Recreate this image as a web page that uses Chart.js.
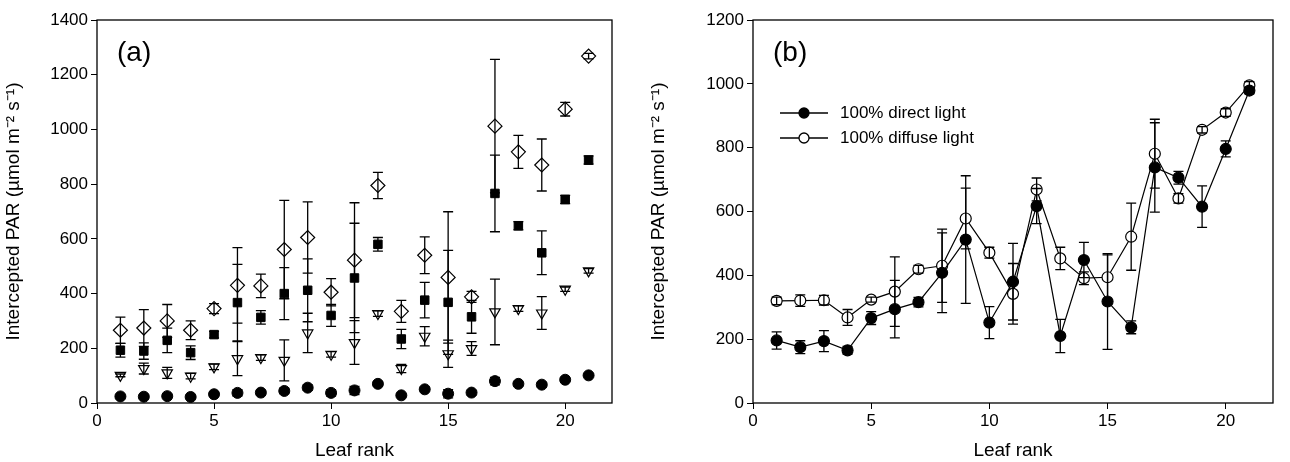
<!DOCTYPE html>
<html>
<head>
<meta charset="utf-8">
<script src="https://cdn.jsdelivr.net/npm/chart.js@4"></script>
<style>
  body { margin: 0; background: #fff; }
  canvas { position: absolute; top: 0; }
</style>
</head>
<body>
<canvas id="chartA" width="640" height="462" style="left:0;width:640px;height:462px"></canvas>
<canvas id="chartB" width="645" height="462" style="left:645px;width:645px;height:462px"></canvas>
<script>
// leaf ranks
const leafRank = [1,2,3,4,5,6,7,8,9,10,11,12,13,14,15,16,17,18,19,20,21];
const xTicks = [0, 5, 10, 15, 20];
const yTicksA = [0,200,400,600,800,1000,1200,1400];
const yTicksB = [0,200,400,600,800,1000,1200];

// panel (a)
const diamondVals = [266,274,300,266,345,430,428,561,605,405,522,795,335,540,459,388,1012,918,870,1074,1268];
const diamondErr  = [48,67,60,34,18,138,43,180,130,50,210,48,40,67,240,20,244,60,95,25,10];
const squareVals  = [193,190,229,184,250,367,313,400,412,320,457,580,234,376,368,315,766,648,549,744,888];
const squareErr   = [25,30,45,25,12,140,25,95,115,40,200,25,35,65,190,60,140,15,80,15,15];
const triVals     = [101,126,110,98,132,162,166,156,256,178,221,327,126,244,180,199,333,345,329,416,483];
const triErr      = [5,20,20,10,10,62,10,75,72,10,80,10,15,35,50,25,120,10,60,8,8];
const circVals    = [24,23,25,22,32,37,38,44,56,37,46,70,28,50,34,38,80,70,67,85,101];
const circErr     = [6,6,6,6,8,12,8,10,10,12,15,8,6,8,15,8,14,6,8,6,6];

// panel (b)
const directVals  = [196,175,194,165,266,294,316,408,512,252,380,617,210,448,318,237,738,706,615,796,979];
const directErr   = [27,20,33,12,20,90,15,125,200,50,120,55,52,55,150,20,140,20,65,25,10];
const diffuseVals = [320,321,322,268,324,349,419,430,578,471,342,669,453,391,394,521,781,641,856,910,995];
const diffuseErr  = [12,18,15,25,8,109,12,115,95,17,95,36,35,20,70,105,108,15,10,12,12];

const yTitle = "Intercepted PAR (\u00b5mol m\u207b\u00b2 s\u207b\u00b9)";
const font = "'Liberation Sans', Arial, sans-serif";

function pts(vals) { return leafRank.map((x, i) => ({ x: x, y: vals[i] })); }

const errorBars = {
  id: "errorBars",
  afterDatasetsDraw(chart) {
    const ctx = chart.ctx, xs = chart.scales.x, ys = chart.scales.y;
    ctx.save();
    ctx.strokeStyle = "#000";
    ctx.lineWidth = 1.3;
    chart.data.datasets.forEach(ds => {
      if (!ds.err) return;
      ds.data.forEach((p, i) => {
        const px = xs.getPixelForValue(p.x);
        const top = ys.getPixelForValue(p.y + ds.err[i]);
        const bot = ys.getPixelForValue(p.y - ds.err[i]);
        ctx.beginPath();
        ctx.moveTo(px, top); ctx.lineTo(px, bot);
        ctx.moveTo(px - 5, top); ctx.lineTo(px + 5, top);
        ctx.moveTo(px - 5, bot); ctx.lineTo(px + 5, bot);
        ctx.stroke();
      });
    });
    ctx.restore();
  }
};

const frame = {
  id: "frame",
  afterDraw(chart, args, opts) {
    const ctx = chart.ctx, a = chart.chartArea;
    ctx.save();
    ctx.strokeStyle = "#000";
    ctx.lineWidth = 1.3;
    ctx.strokeRect(a.left, a.top, a.right - a.left, a.bottom - a.top);
    ctx.fillStyle = "#000";
    ctx.font = "28px " + font;
    ctx.textBaseline = "middle";
    ctx.fillText(opts.label, a.left + 20, a.top + 33);
    if (opts.legend) {
      ctx.font = "17px " + font;
      opts.legend.forEach((item, k) => {
        const y = a.top + 93 + k * 25;
        const x0 = a.left + 27;
        ctx.beginPath();
        ctx.moveTo(x0, y); ctx.lineTo(x0 + 48, y);
        ctx.stroke();
        ctx.beginPath();
        ctx.arc(x0 + 24, y, 5, 0, Math.PI * 2);
        ctx.fillStyle = item.fill;
        ctx.fill();
        ctx.stroke();
        ctx.fillStyle = "#000";
        ctx.fillText(item.text, x0 + 60, y);
      });
    }
    ctx.restore();
  }
};

function scaleOpts(yMax, yTickList, yWidth) {
  return {
    x: {
      type: "linear", min: 0, max: 22,
      afterBuildTicks: s => { s.ticks = xTicks.map(v => ({ value: v })); },
      afterFit: s => { s.height = 59; },
      grid: { drawOnChartArea: false, drawTicks: true, tickLength: 6, color: "#000" },
      border: { display: false },
      ticks: { color: "#000", font: { family: font, size: 17 }, padding: 2, callback: v => String(v) },
      title: { display: true, text: "Leaf rank", color: "#000", font: { family: font, size: 19 }, padding: 0 }
    },
    y: {
      min: 0, max: yMax,
      afterBuildTicks: s => { s.ticks = yTickList.map(v => ({ value: v })); },
      afterFit: s => { s.width = yWidth; },
      grid: { drawOnChartArea: false, drawTicks: true, tickLength: 6, color: "#000" },
      border: { display: false },
      ticks: { color: "#000", font: { family: font, size: 17 }, padding: 3, callback: v => String(v) },
      title: { display: true, text: yTitle, color: "#000", font: { family: font, size: 19 }, padding: 2 }
    }
  };
}

new Chart(document.getElementById("chartA"), {
  type: "scatter",
  data: {
    datasets: [
      { data: pts(diamondVals), err: diamondErr, pointStyle: "rectRot", radius: 7, backgroundColor: "#fff", borderColor: "#000", borderWidth: 1.2 },
      { data: pts(squareVals), err: squareErr, pointStyle: "rect", radius: 6, backgroundColor: "#000", borderColor: "#000" },
      { data: pts(triVals), err: triErr, pointStyle: "triangle", rotation: 180, radius: 6, backgroundColor: "#fff", borderColor: "#000", borderWidth: 1.2 },
      { data: pts(circVals), err: circErr, pointStyle: "circle", radius: 5.5, backgroundColor: "#000", borderColor: "#000" }
    ]
  },
  options: {
    responsive: false, animation: false,
    layout: { padding: { left: 0, right: 28, top: 20, bottom: 0 } },
    plugins: { legend: { display: false }, tooltip: { enabled: false }, frame: { label: "(a)" } },
    scales: scaleOpts(1400, yTicksA, 97)
  },
  plugins: [errorBars, frame]
});

new Chart(document.getElementById("chartB"), {
  type: "line",
  data: {
    datasets: [
      { data: pts(directVals), err: directErr, pointStyle: "circle", radius: 5.5, backgroundColor: "#000", borderColor: "#000", borderWidth: 1.2 },
      { data: pts(diffuseVals), err: diffuseErr, pointStyle: "circle", radius: 5.5, backgroundColor: "#fff", borderColor: "#000", borderWidth: 1.2 }
    ]
  },
  options: {
    responsive: false, animation: false,
    layout: { padding: { left: 0, right: 17, top: 20, bottom: 0 } },
    plugins: {
      legend: { display: false }, tooltip: { enabled: false },
      frame: { label: "(b)", legend: [ { text: "100% direct light", fill: "#000" }, { text: "100% diffuse light", fill: "#fff" } ] }
    },
    scales: scaleOpts(1200, yTicksB, 108)
  },
  plugins: [errorBars, frame]
});
</script>
</body>
</html>
